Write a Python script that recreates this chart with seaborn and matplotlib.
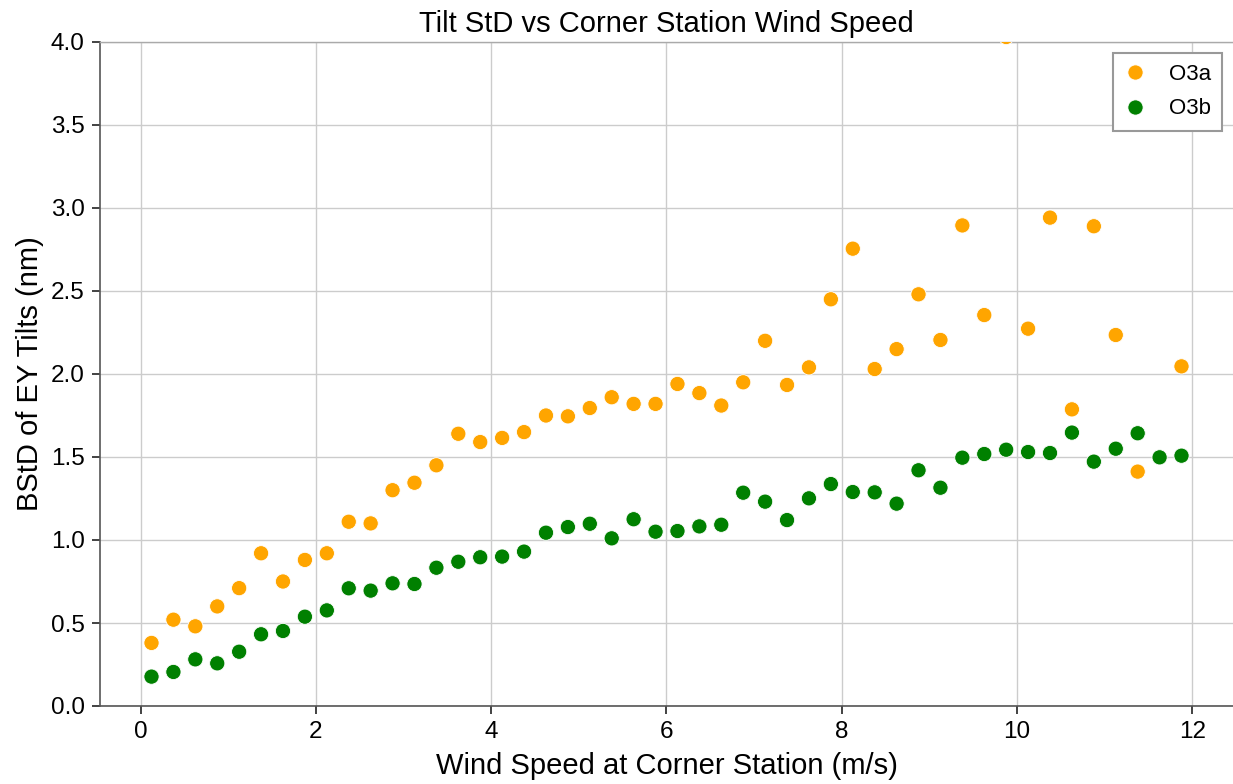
import numpy as np
import pandas as pd
import matplotlib
matplotlib.use("Agg")
import matplotlib.pyplot as plt
import seaborn as sns

# Wind-speed bin centres (m/s)
wind_speed = [
    0.125, 0.375, 0.625, 0.875, 1.125, 1.375, 1.625, 1.875,
    2.125, 2.375, 2.625, 2.875, 3.125, 3.375, 3.625, 3.875,
    4.125, 4.375, 4.625, 4.875, 5.125, 5.375, 5.625, 5.875,
    6.125, 6.375, 6.625, 6.875, 7.125, 7.375, 7.625, 7.875,
    8.125, 8.375, 8.625, 8.875, 9.125, 9.375, 9.625, 9.875,
    10.125, 10.375, 10.625, 10.875, 11.125, 11.375, 11.625, 11.875,
]

# Band-limited StD of EY tilts (nm) per bin
o3a_std = [
    0.38, 0.52, 0.48, 0.60, 0.71, 0.92, 0.75, 0.88,
    0.92, 1.11, 1.10, 1.30, 1.345, 1.45, 1.64, 1.59,
    1.615, 1.65, 1.75, 1.745, 1.795, 1.86, 1.82, 1.82,
    1.94, 1.885, 1.81, 1.95, 2.20, 1.934, 2.04, 2.45,
    2.755, 2.03, 2.15, 2.48, 2.205, 2.895, 2.355, 4.03,
    2.273, 2.942, 1.787, 2.89, 2.235, 1.412, np.nan, 2.046,
]
o3b_std = [
    0.177, 0.205, 0.281, 0.257, 0.327, 0.432, 0.452, 0.538,
    0.576, 0.709, 0.695, 0.739, 0.735, 0.833, 0.869, 0.896,
    0.900, 0.930, 1.044, 1.078, 1.098, 1.010, 1.125, 1.050,
    1.054, 1.082, 1.092, 1.285, 1.231, 1.120, 1.251, 1.337,
    1.289, 1.287, 1.219, 1.420, 1.315, 1.496, 1.518, 1.544,
    1.530, 1.524, 1.647, 1.472, 1.550, 1.643, 1.498, 1.508,
]

series_names = ["O3a", "O3b"]
series_colors = {"O3a": "orange", "O3b": "green"}

df = pd.concat([
    pd.DataFrame({"wind": wind_speed, "std": o3a_std, "sensor": series_names[0]}),
    pd.DataFrame({"wind": wind_speed, "std": o3b_std, "sensor": series_names[1]}),
], ignore_index=True)

sns.set_theme(style="ticks")
plt.rcParams["font.family"] = ["Liberation Sans", "DejaVu Sans"]
plt.rcParams["text.color"] = "black"
plt.rcParams["axes.labelcolor"] = "black"

fig = plt.figure(figsize=(12.33, 7.84), dpi=100)
ax = fig.add_axes([100 / 1233, 1 - 706 / 784, 1 - 100 / 1233, (706 - 42) / 784])

sns.scatterplot(
    data=df, x="wind", y="std", hue="sensor", hue_order=series_names,
    palette=series_colors, s=120, edgecolor="white", linewidth=0.6,
    ax=ax, legend=True, zorder=3,
)

ax.set_ylim(0, 4.0)
ax.set_xticks([0, 2, 4, 6, 8, 10, 12])
ax.set_yticks(np.arange(0, 4.01, 0.5))
ax.yaxis.set_major_formatter(matplotlib.ticker.FormatStrFormatter("%.1f"))
ax.grid(True, color="#cccccc", linewidth=1.0, zorder=0)
ax.set_axisbelow(True)

for side in ["left", "bottom"]:
    ax.spines[side].set_color("#555555")
    ax.spines[side].set_linewidth(1.2)
ax.spines["top"].set_color("#aaaaaa")
ax.spines["top"].set_linewidth(1.0)
ax.spines["right"].set_visible(False)

ax.tick_params(axis="both", labelsize=17.5, colors="#222222", length=6, width=1.2,
               labelcolor="black", pad=5)

ax.set_title("Tilt StD vs Corner Station Wind Speed", fontsize=21, pad=7)
ax.set_xlabel("Wind Speed at Corner Station (m/s)", fontsize=21, labelpad=6)
ax.set_ylabel("BStD of EY Tilts (nm)", fontsize=21, labelpad=5)

handles, labels = ax.get_legend_handles_labels()
leg = ax.legend(handles, labels, loc="upper right", fontsize=16, frameon=True,
                fancybox=False, edgecolor="#999999", framealpha=1.0,
                handlelength=1.0, handletextpad=1.0, borderpad=0.5,
                labelspacing=0.6, borderaxespad=0,
                bbox_to_anchor=(1 - 11 / 1133, 1 - 11 / 664))
leg.get_frame().set_linewidth(1.5)

fig.savefig("out.png", dpi=100)
